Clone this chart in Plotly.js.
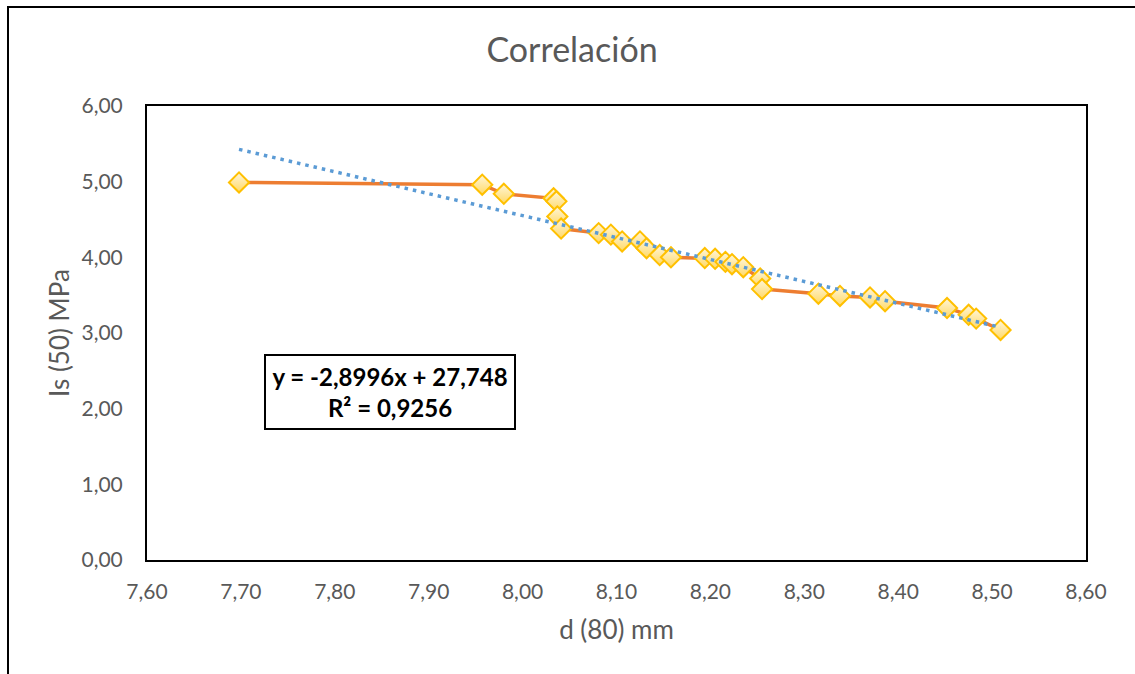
<!DOCTYPE html>
<html>
<head>
<meta charset="utf-8">
<script src="https://cdn.plot.ly/plotly-3.0.1.min.js"></script>
<style>
  html, body { margin: 0; padding: 0; background: #ffffff; overflow: hidden; }
  #frame { position: absolute; left: 7px; top: 6px; width: 1300px; height: 900px;
           border-left: 2px solid #000; border-top: 2px solid #000; }
  #chart { position: absolute; left: 0; top: 0; width: 1135px; height: 674px; }
</style>
</head>
<body>
<div id="frame"></div>
<div id="chart"></div>
<script>
// Measured data: d (80) mm vs Is (50) MPa
const dValues = [7.698, 7.957, 7.980, 8.033, 8.036, 8.037, 8.041, 8.081, 8.094, 8.106,
                 8.125, 8.132, 8.146, 8.158, 8.194, 8.205, 8.216, 8.223, 8.235, 8.253,
                 8.255, 8.315, 8.338, 8.370, 8.386, 8.452, 8.475, 8.483, 8.509];
const isValues = [4.99, 4.96, 4.84, 4.78, 4.74, 4.54, 4.38, 4.32, 4.30, 4.21,
                  4.21, 4.12, 4.03, 4.00, 3.99, 3.98, 3.94, 3.91, 3.87, 3.72,
                  3.58, 3.52, 3.49, 3.47, 3.42, 3.33, 3.24, 3.19, 3.04];
// Excel linear trendline coefficients
const trendSlope = -2.8996;
const trendIntercept = 27.748;
const trendLabel = "y = -2,8996x + 27,748<br>R² = 0,9256";
const xTickVals = [7.6, 7.7, 7.8, 7.9, 8.0, 8.1, 8.2, 8.3, 8.4, 8.5, 8.6];
const yTickVals = [0, 1, 2, 3, 4, 5, 6];

const xMin = Math.min(...dValues), xMax = Math.max(...dValues);
const trendX = [xMin, xMax];
const trendY = trendX.map(x => trendSlope * x + trendIntercept);

const FONT = "Lato, 'Open Sans', sans-serif";
const GREY = "#595959";

const traces = [
  {
    x: dValues, y: isValues, type: "scatter", mode: "lines+markers",
    line: { color: "#ED7D31", width: 3.5 },
    marker: { symbol: "diamond", size: 15.5, color: "#FFF6DA",
              gradient: { type: "vertical", color: "#FFD966" },
              line: { color: "#FFC000", width: 2 } },
    hoverinfo: "x+y", showlegend: false
  },
  {
    x: trendX, y: trendY, type: "scatter", mode: "lines",
    line: { color: "#5B9BD5", width: 3.5, dash: "3.5px,5px" },
    hoverinfo: "skip", showlegend: false
  }
];

const layout = {
  width: 1135, height: 674,
  paper_bgcolor: "rgba(0,0,0,0)", plot_bgcolor: "#ffffff",
  margin: { l: 147, r: 49, t: 106, b: 114 },
  separators: ", ",
  font: { family: FONT, color: GREY },
  title: { text: "Correlación", font: { family: FONT, size: 34, color: GREY },
           x: 0.504, xref: "container", y: 0.925, yref: "container", xanchor: "center", yanchor: "middle" },
  xaxis: {
    range: [7.6, 8.6], tickvals: xTickVals, tickformat: ".2f",
    showgrid: false, zeroline: false, ticks: "",
    showline: true, linecolor: "#000", linewidth: 2, mirror: true,
    tickfont: { family: FONT, size: 21, color: GREY }, ticklabelstandoff: 12,
    title: { text: "d (80) mm", font: { family: FONT, size: 26, color: GREY }, standoff: 19 }
  },
  yaxis: {
    range: [0, 6], tickvals: yTickVals, tickformat: ".2f",
    showgrid: false, zeroline: false, ticks: "",
    showline: true, linecolor: "#000", linewidth: 2, mirror: true,
    tickfont: { family: FONT, size: 21, color: GREY }, ticklabelstandoff: 18,
    title: { text: "Is (50) MPa", font: { family: FONT, size: 26, color: GREY }, standoff: 4 }
  },
  annotations: [{
    text: trendLabel, x: 7.859, y: 2.22, xref: "x", yref: "y",
    showarrow: false, align: "center",
    font: { family: FONT, size: 24, color: "#000", weight: "bold" },
    bgcolor: "#ffffff", bordercolor: "#000", borderwidth: 2, borderpad: 4,
    width: 240, height: 64
  }]
};

Plotly.newPlot("chart", traces, layout, { displayModeBar: false, staticPlot: true });
</script>
</body>
</html>
